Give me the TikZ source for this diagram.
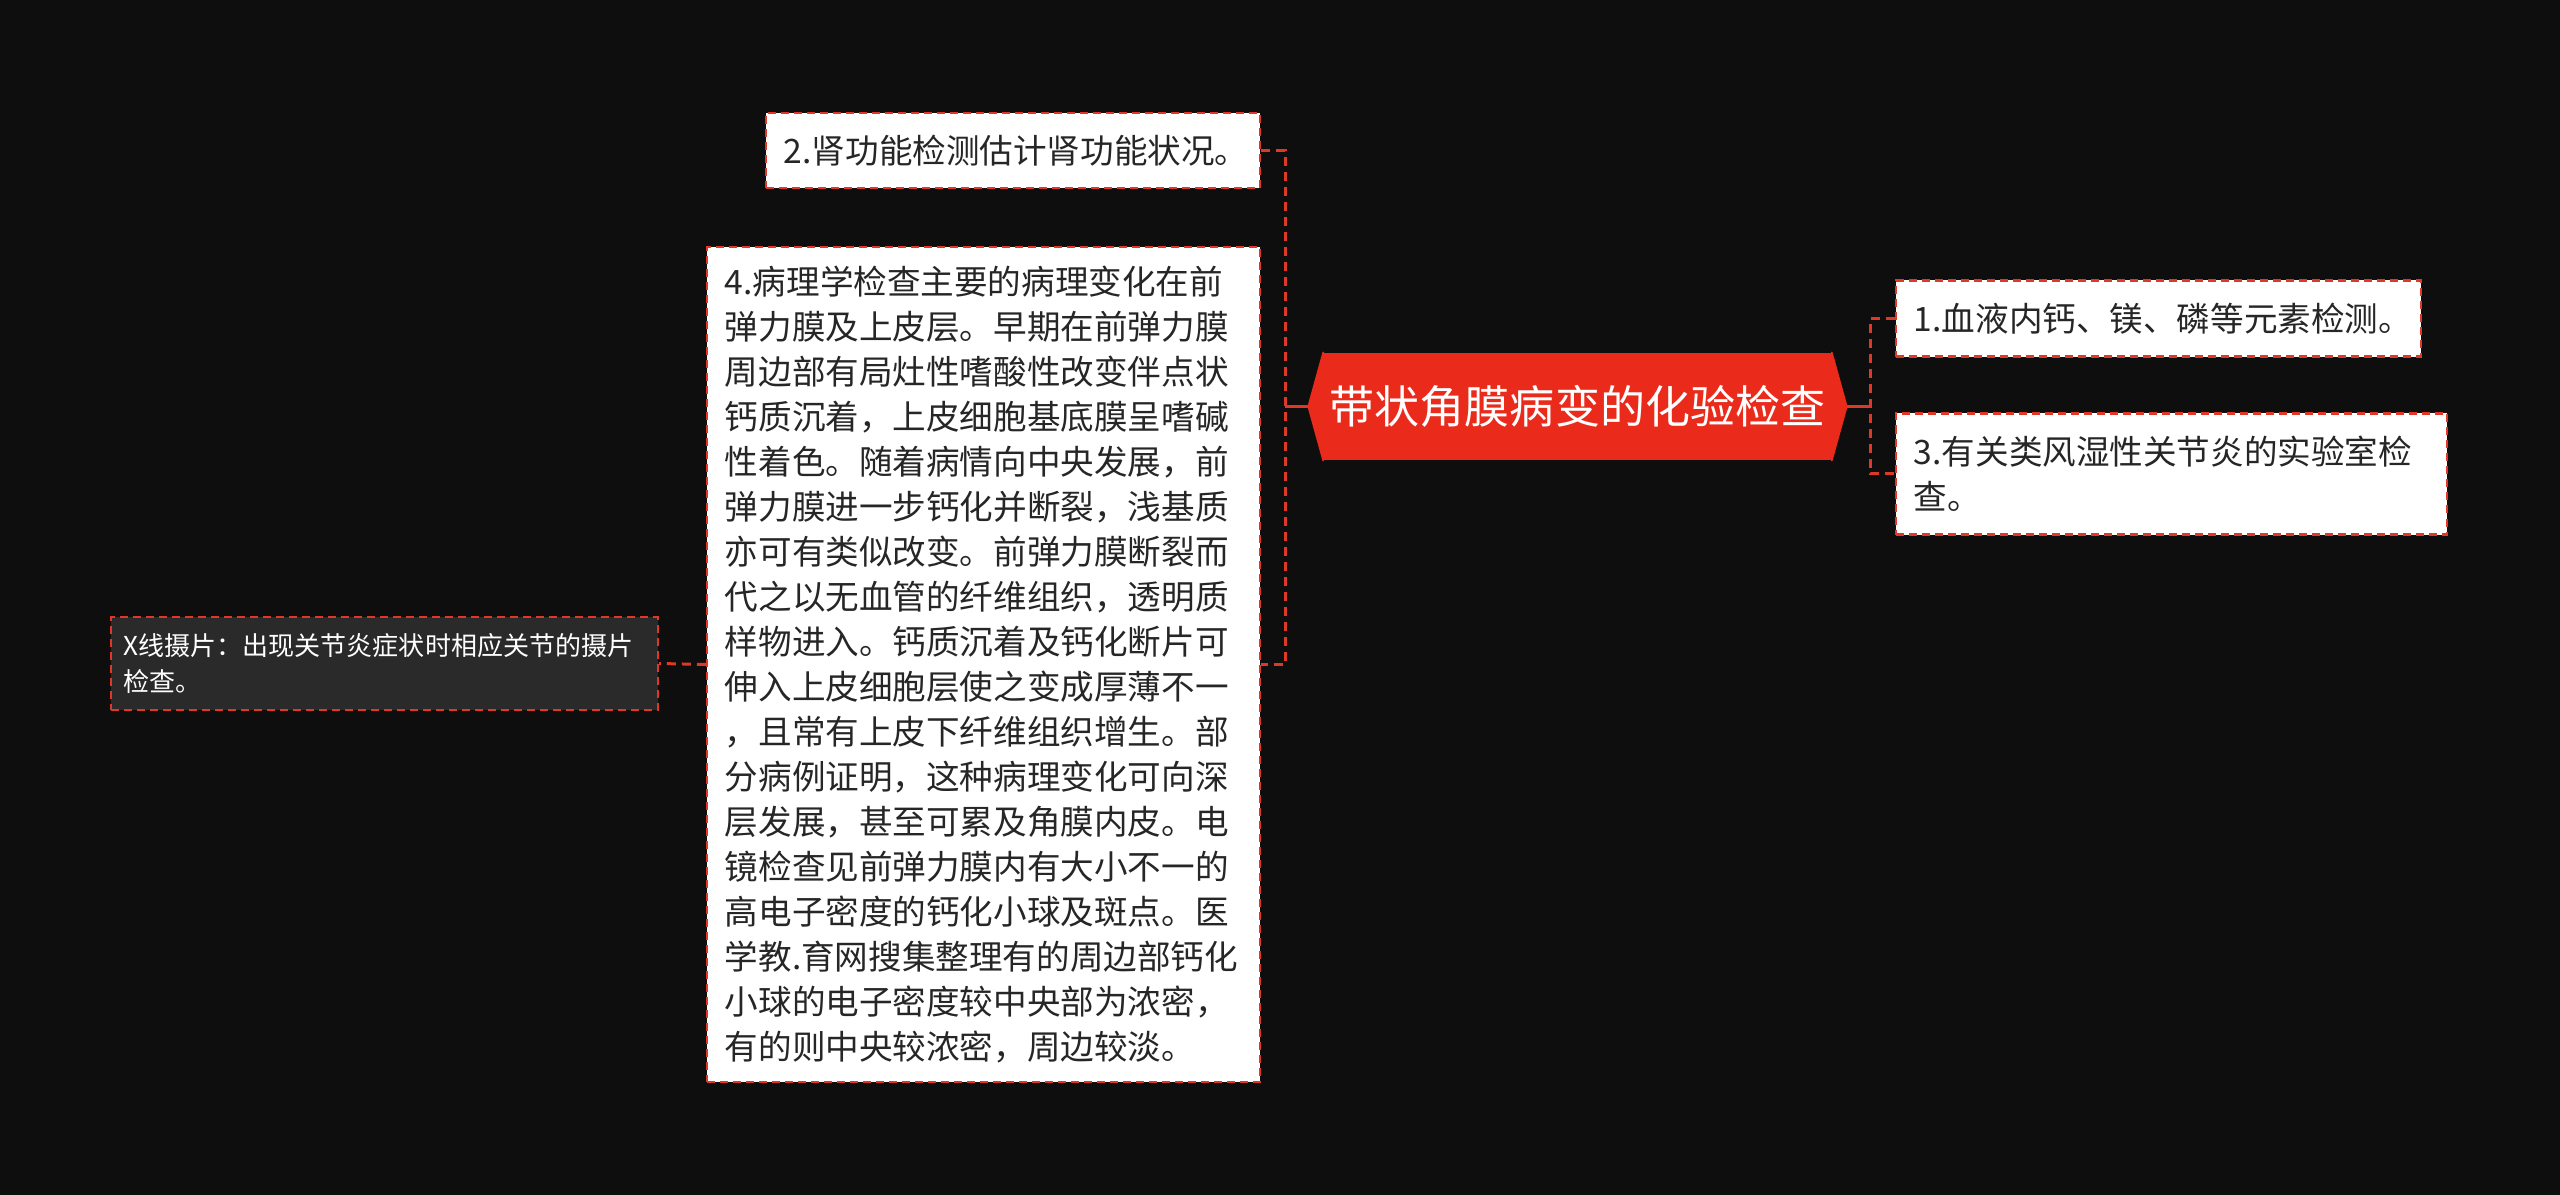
\documentclass[tikz,border=0pt]{standalone}
\usepackage{fontspec}
\setmainfont{Noto Sans CJK SC}
\usepackage{tikz}
\usetikzlibrary{calc}
\definecolor{bgblack}{RGB}{14,14,14}
\definecolor{rootred}{RGB}{234,43,27}
\definecolor{linkred}{RGB}{224,56,40}
\definecolor{textgray}{RGB}{38,38,38}
\definecolor{leafdark}{RGB}{42,42,42}
\tikzset{link/.style={draw=linkred, line width=0.85pt,
    dash pattern=on 0.09cm off 0.06cm}}
\tikzset{stub/.style={draw=linkred, line width=0.85pt}}
\tikzset{topic/.style={shape=rectangle, draw=linkred, fill=white, text=textgray,
    line width=0.6pt, dash pattern=on 0.08cm off 0.05cm, align=left,
    inner xsep=0.18cm, inner ysep=0pt,
    font=\fontsize{9.55pt}{12.8pt}\selectfont}}
\tikzset{leaf/.style={topic, fill=leafdark, text=white, inner xsep=0.13cm,
    font=\fontsize{7.4pt}{10.2pt}\selectfont}}
\tikzset{rootbox/.style={shape=rectangle, fill=rootred, text=white, inner sep=0pt,
    minimum width=5.07cm, minimum height=1.07cm,
    font=\fontsize{12.8pt}{15pt}\selectfont}}
\tikzset{roottip/.style={fill=rootred, draw=rootred, line width=0.4pt,
    line join=round}}

\begin{document}
\begin{tikzpicture}[x=0.01cm, y=-0.01cm]
  \path[fill=bgblack] (0,0) rectangle (2560,1195);
  % central topic
  \node[rootbox] (root) at (1577.5,406.5) {带状角膜病变的化验检查};
  \path[roottip] (root.north west) -- ([xshift=-0.15cm]root.west)
    -- (root.south west) -- cycle;
  \path[roottip] (root.north east) -- ([xshift=0.15cm]root.east)
    -- (root.south east) -- cycle;
  % left branch
  \node[topic, text width=4.58cm, minimum height=0.75cm] (n2) at (1013,150.5)
    {2.肾功能检测估计肾功能状况。};
  \node[topic, text width=5.17cm, minimum height=8.35cm] (n4) at (983.5,664.5)
    {4.病理学检查主要的病理变化在前\\
     弹力膜及上皮层。早期在前弹力膜\\
     周边部有局灶性嗜酸性改变伴点状\\
     钙质沉着，上皮细胞基底膜呈嗜碱\\
     性着色。随着病情向中央发展，前\\
     弹力膜进一步钙化并断裂，浅基质\\
     亦可有类似改变。前弹力膜断裂而\\
     代之以无血管的纤维组织，透明质\\
     样物进入。钙质沉着及钙化断片可\\
     伸入上皮细胞层使之变成厚薄不一\\
     ，且常有上皮下纤维组织增生。部\\
     分病例证明，这种病理变化可向深\\
     层发展，甚至可累及角膜内皮。电\\
     镜检查见前弹力膜内有大小不一的\\
     高电子密度的钙化小球及斑点。医\\
     学教.育网搜集整理有的周边部钙化\\
     小球的电子密度较中央部为浓密，\\
     有的则中央较浓密，周边较淡。};
  \node[leaf, text width=5.21cm, minimum height=0.93cm] (nx) at (384.5,663.5)
    {X线摄片：出现关节炎症状时相应关节的摄片\\检查。};
  % right branch
  \node[topic, text width=4.89cm, minimum height=0.76cm] (n1) at (2158.5,318.5)
    {1.血液内钙、镁、磷等元素检测。};
  \node[topic, text width=5.15cm, minimum height=1.21cm] (n3) at (2171.5,474)
    {3.有关类风湿性关节炎的实验室检\\查。};
  % connectors
  \coordinate (lb) at (1285,406.5);
  \coordinate (rb) at (1870,406.5);
  \draw[stub] ([xshift=-0.15cm]root.west) -- (lb);
  \draw[stub] ([xshift=0.15cm]root.east) -- (rb);
  \draw[link] (n2.east) -| (lb) |- (n4.east);
  \draw[link] (n1.west) -| (rb) |- (n3.west);
  \draw[link] (n4.west) -- (nx.east);
\end{tikzpicture}
\end{document}
